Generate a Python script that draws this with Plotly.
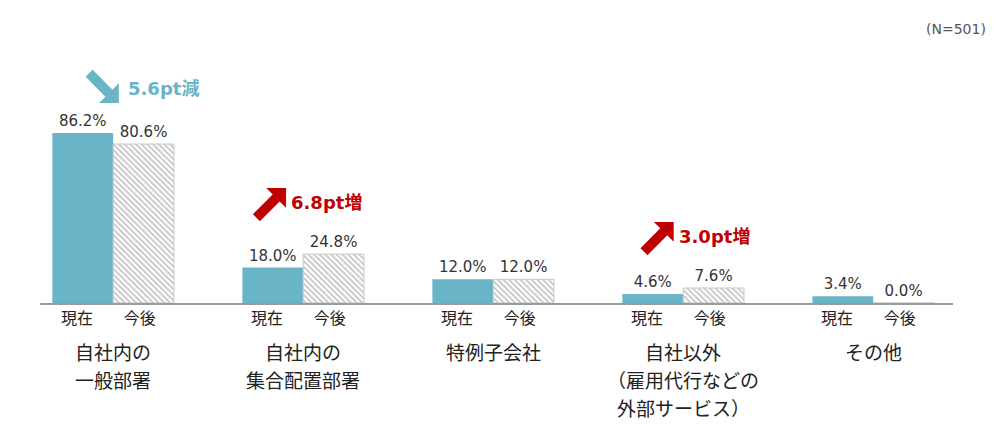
import math
import plotly.graph_objects as go

categories = ['自社内の<br>一般部署', '自社内の<br>集合配置部署', '特例子会社',
              '自社以外<br>（雇用代行などの<br>外部サービス）', 'その他']
current_vals = [86.2, 18.0, 12.0, 4.6, 3.4]
future_vals = [80.6, 24.8, 12.0, 7.6, 0.0]
series_names = ['現在', '今後']
# change callouts: (group index, text, color, direction)
changes = [(0, '5.6pt減', '#6ab4c8', 'down'),
           (1, '6.8pt増', '#c00000', 'up'),
           (3, '3.0pt増', '#c00000', 'up')]

TEAL = '#6ab4c8'
FONT = 'Noto Sans CJK JP'
NUMFONT = 'DejaVu Sans, Noto Sans CJK JP'
PX_PER_PCT = 1.972  # vertical scale of the original

# page has an 8px body margin, so the figure is a bit smaller than the window
FIG_W, FIG_H = 992, 416
M_L, M_R, M_T, M_B = 32, 47, 12, 121
plot_h = FIG_H - M_T - M_B

xs = list(range(len(categories)))


def block_arrow(direction, length=42, head=14, shaft=5):
    # pixel path of a block arrow, tip at (0, 0), right-angled head
    dx, dy = (1, -1) if direction == 'down' else (1, 1)
    n = math.hypot(dx, dy)
    dx, dy = dx / n, dy / n
    nx, ny = -dy, dx
    local = [(0, 0), (-head, head), (-head, shaft), (-length, shaft),
             (-length, -shaft), (-head, -shaft), (-head, -head)]
    pts = [(u * dx + v * nx, u * dy + v * ny) for u, v in local]
    return 'M ' + ' L '.join(f'{x:.1f},{y:.1f}' for x, y in pts) + ' Z'


fig = go.Figure()

fig.add_trace(go.Bar(
    x=xs, y=current_vals, name=series_names[0],
    marker=dict(color=TEAL, line=dict(width=0)),
    text=[f'{v:.1f}%' for v in current_vals],
    textposition='outside', cliponaxis=False,
    textfont=dict(size=15, color='#333333', family=NUMFONT),
))

fig.add_trace(go.Bar(
    x=xs, y=future_vals, name=series_names[1],
    marker=dict(color='white',
                line=dict(color='#c8c8c8', width=1),
                pattern=dict(shape='\\', fgcolor='#888888', bgcolor='white',
                             size=4, solidity=0.45)),
    text=[f'{v:.1f}%' for v in future_vals],
    textposition='outside', cliponaxis=False,
    textfont=dict(size=15, color='#333333', family=NUMFONT),
))

# sub tick labels 現在 / 今後 under each bar
half = 0.16
tickvals, ticktext = [], []
for i in xs:
    tickvals += [i - half - 0.03, i + half - 0.02]
    ticktext += series_names

# group labels below the ticks, one annotation per line
for i, cat in enumerate(categories):
    for k, line in enumerate(cat.split('<br>')):
        fig.add_annotation(x=i, y=0, xref='x', yref='paper', yshift=-(48 + 28 * k),
                           text=line, showarrow=False, yanchor='middle',
                           xanchor='center',
                           font=dict(size=19, color='#222222', family=FONT))

# change arrows + text
for i, txt, col, d in changes:
    top = max(current_vals[i], future_vals[i])
    if d == 'down':
        hx, hy = i + 0.03, top + 15.2
        tx, ty = i + 0.07, top + 22.8
    else:
        shift = 0.04 if i == 3 else 0
        hx, hy = i - 0.09 + shift, top + 33.5
        tx, ty = i - 0.075 + shift, top + 26
    fig.add_shape(type='path', xref='x', yref='y', xsizemode='pixel',
                  ysizemode='pixel', xanchor=hx, yanchor=hy,
                  path=block_arrow(d), fillcolor=col, line=dict(width=0))
    fig.add_annotation(x=tx, y=ty, xref='x', yref='y', text=f'<b>{txt}</b>',
                       showarrow=False, xanchor='left', yanchor='middle',
                       font=dict(size=18, color=col, family=NUMFONT))

fig.add_annotation(x=1, y=1, xref='paper', yref='paper', xshift=35, yshift=1,
                   text='(N=501)', showarrow=False, xanchor='right', yanchor='top',
                   font=dict(size=14, color='#555555', family=NUMFONT))

fig.update_layout(
    width=FIG_W, height=FIG_H,
    margin=dict(l=M_L, r=M_R, t=M_T, b=M_B),
    paper_bgcolor='white', plot_bgcolor='white',
    barmode='group', bargap=0.36, bargroupgap=0,
    showlegend=False,
    font=dict(family=FONT),
    xaxis=dict(range=[-0.385, 4.42], tickmode='array', tickvals=tickvals,
               ticktext=ticktext, showline=True, linecolor='#9a9a9a', linewidth=2,
               showgrid=False, zeroline=False, ticks='',
               tickfont=dict(size=16, color='#222222', family=FONT)),
    yaxis=dict(range=[0, plot_h / PX_PER_PCT], visible=False, showgrid=False,
               zeroline=False),
)

fig.write_html('out.html')
